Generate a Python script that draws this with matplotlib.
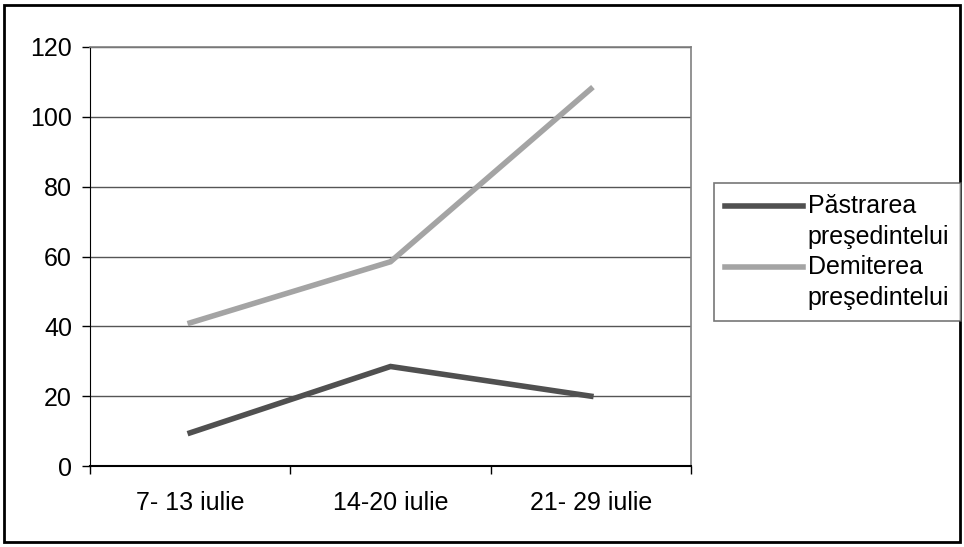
import matplotlib
matplotlib.use("Agg")
import matplotlib.pyplot as plt
from matplotlib.patches import Rectangle
from matplotlib.legend_handler import HandlerLine2D
from matplotlib.lines import Line2D

categories = ["7- 13 iulie", "14-20 iulie", "21- 29 iulie"]
pastrarea = [9.5, 28.5, 20]
demiterea = [41, 58.5, 108]
series_labels = ["Păstrarea\npreşedintelui", "Demiterea\npreşedintelui"]
yticks = [0, 20, 40, 60, 80, 100, 120]

plt.rcParams['font.family'] = ['Liberation Sans', 'DejaVu Sans']

W, H = 964, 547
fig = plt.figure(figsize=(W / 100, H / 100), dpi=100)
ax = fig.add_axes([90 / W, (H - 466) / H, (691 - 90) / W, (466 - 47) / H])

x = [0.5, 1.5, 2.5]
l1, = ax.plot(x, pastrarea, color='#505050', lw=4.0, solid_joinstyle='miter', label=series_labels[0], zorder=3)
l2, = ax.plot(x, demiterea, color='#a4a4a4', lw=4.0, solid_joinstyle='miter', label=series_labels[1], zorder=3)

FS = 18
ax.set_xlim(0, 3)
ax.set_ylim(0, 120)
ax.set_yticks(yticks)
ax.set_yticklabels([str(v) for v in yticks], fontsize=FS)
ax.set_xticks([0, 1, 2, 3])
ax.set_xticklabels([])
ax.set_xticks(x, minor=True)
ax.set_xticklabels(categories, minor=True, fontsize=FS)
ax.tick_params(axis='x', which='minor', length=0, pad=18)
ax.tick_params(axis='x', which='major', length=6, direction='out', width=1, color='black')
ax.tick_params(axis='y', length=6, direction='out', width=1, color='black', pad=7)

ax.yaxis.grid(True, color='#555555', lw=1)
ax.set_axisbelow(True)
for s in ['top', 'right']:
    ax.spines[s].set_color('#808080')
    ax.spines[s].set_linewidth(1.2)
ax.spines['left'].set_color('black')
ax.spines['bottom'].set_color('black')
ax.spines['bottom'].set_linewidth(1.5)


class TopLine(HandlerLine2D):
    def create_artists(self, legend, orig_handle, xdescent, ydescent, width, height, fontsize, trans):
        arts = super().create_artists(legend, orig_handle, xdescent, ydescent, width, height, fontsize, trans)
        for a in arts:
            if isinstance(a, Line2D):
                a.set_ydata([height + fontsize * 0.3] * len(a.get_ydata()))
        return arts


leg = fig.legend(handles=[l1, l2], labels=series_labels, loc='upper left',
                 bbox_to_anchor=(714 / W, 1 - 183 / H), fontsize=FS,
                 frameon=True, fancybox=False, edgecolor='#555555',
                 handlelength=3.1, handletextpad=0.2, borderpad=0.45,
                 labelspacing=0.22, borderaxespad=0,
                 handler_map={Line2D: TopLine()})
for t in leg.get_texts():
    t.set_linespacing(1.38)
leg.get_frame().set_linewidth(1.2)

fig.patches.append(Rectangle((4 / W, 5 / H), (960 - 4) / W, (542 - 5) / H,
                             transform=fig.transFigure, fill=False,
                             edgecolor='black', lw=2))

fig.savefig('out.png', dpi=100)
